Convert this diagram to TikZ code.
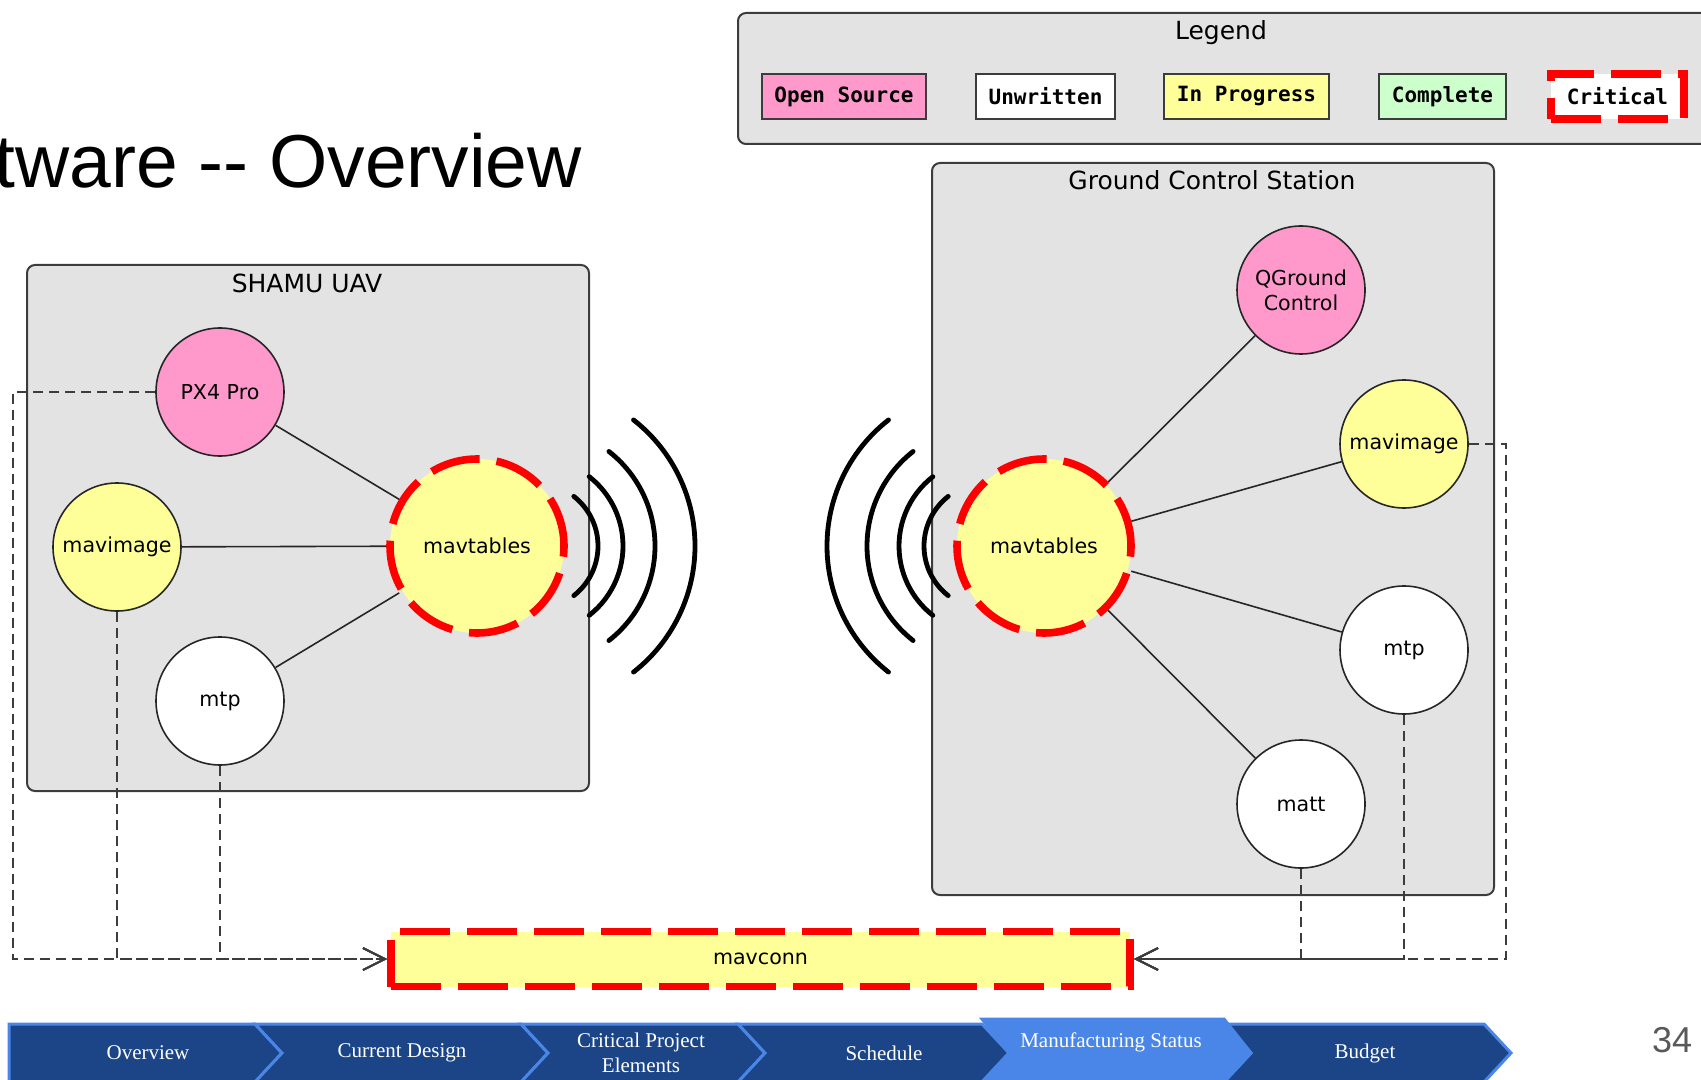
\documentclass[tikz,border=0pt]{standalone}
\usepackage{fontspec}
\setmainfont{DejaVu Sans}
\newfontfamily\keyfont{DejaVu Sans Mono}
\newfontfamily\slidefont{Liberation Sans}
\newfontfamily\navfont{Liberation Serif}
\usetikzlibrary{arrows.meta}
\definecolor{opensrc}{HTML}{FF99CC}
\definecolor{inprog}{HTML}{FFFF99}
\definecolor{complete}{HTML}{CCFFCC}
\definecolor{boxgray}{HTML}{E3E3E3}
\definecolor{edgegray}{HTML}{3C3C3C}
\definecolor{navdark}{RGB}{28,69,135}
\definecolor{navlight}{RGB}{74,134,232}
\definecolor{pagegray}{HTML}{595959}

\begin{document}
\begin{tikzpicture}[x=0.5pt, y=-0.5pt,
  cluster/.style={draw=edgegray, fill=boxgray, line width=1pt, rounded corners=4pt},
  clustertitle/.style={font=\fontsize{12.5}{14}\selectfont},
  proc/.style={circle, draw=black!85, line width=0.8pt, minimum size=#1, inner sep=0pt, font=\fontsize{10.3}{12.5}\selectfont},
  proc/.default=64pt,
  critical/.style={draw=red, line width=3.8pt, dash pattern=on 25pt off 8.5pt},
  link/.style={draw=black!85, line width=0.8pt},
  feed/.style={draw=edgegray, line width=1pt, dash pattern=on 5pt off 3pt, -{Straight Barb[length=11pt,width=11pt,line width=1pt]}},
  wave/.style={line width=2.4pt, line cap=round},
  key/.style={draw=edgegray, line width=1pt, minimum height=22.5pt, inner sep=0pt, font=\keyfont\bfseries\fontsize{10.5}{12}\selectfont},
  navtab/.style={fill=navdark, draw=navlight, line width=1.5pt},
  navtext/.style={text=white, font=\navfont\fontsize{10.5}{12.5}\selectfont, align=center}]
\useasboundingbox (0,0) rectangle (1701,1080);
\clip (0,0) rectangle (1701,1080);

% slide title
\node[anchor=base east, font=\slidefont\fontsize{37.5}{40}\selectfont] (title) at (589,188) {tware -{}- Overview};

% Legend
\draw[cluster] (738,13) rectangle (1760,144);
\node[clustertitle] (legendtitle) at (1221,33) {Legend};
\node[key, fill=opensrc, minimum width=82pt] (keyopen) at (844,96.5) {Open Source};
\node[key, fill=white, minimum width=69.5pt] (keyunwritten) at (1045.5,96.5) {Unwritten};
\node[key, fill=inprog, minimum width=82.5pt] (keyprogress) at (1246.5,96.5) {In Progress};
\node[key, fill=complete, minimum width=63.5pt] (keycomplete) at (1442.5,96.5) {Complete};
\node[key, critical, fill=white, minimum width=66.5pt] (keycritical) at (1617.5,96.5) {Critical};

% SHAMU UAV side
\draw[cluster] (27,265) rectangle (589,791);
\node[clustertitle] (uavtitle) at (307,283) {SHAMU UAV};
\node[proc, fill=opensrc] (px4l) at (220,392) {PX4 Pro};
\node[proc, fill=inprog] (imgl) at (117,547) {mavimage};
\node[proc, fill=white] (mtpl) at (220,701) {mtp};
\node[proc=87pt, fill=inprog, critical] (tablesl) at (477,546) {mavtables};
\draw[link] (px4l) -- (tablesl);
\draw[link] (imgl) -- (tablesl);
\draw[link] (mtpl) -- (tablesl);

% Ground Control Station side
\draw[cluster] (932,163) rectangle (1494,895);
\node[clustertitle] (gcstitle) at (1212,180) {Ground Control Station};
\node[proc, fill=opensrc, align=center] (qgc) at (1301,290) {QGround\\Control};
\node[proc, fill=inprog] (imgr) at (1404,444) {mavimage};
\node[proc, fill=white] (mtpr) at (1404,650) {mtp};
\node[proc, fill=white] (matt) at (1301,804) {matt};
\node[proc=87pt, fill=inprog, critical] (tablesr) at (1044,546) {mavtables};
\draw[link] (tablesr) -- (qgc);
\draw[link] (tablesr) -- (imgr);
\draw[link] (tablesr) -- (mtpr);
\draw[link] (tablesr) -- (matt);

% radio link
\coordinate (lwave) at (535,546);
\coordinate (rwave) at (987,546);
\draw[wave] ([shift={(-52:31.5pt)}]lwave) arc[start angle=-52, end angle=52, radius=31.5pt];
\draw[wave] ([shift={(-52:44pt)}]lwave) arc[start angle=-52, end angle=52, radius=44pt];
\draw[wave] ([shift={(-52:60pt)}]lwave) arc[start angle=-52, end angle=52, radius=60pt];
\draw[wave] ([shift={(-52:80pt)}]lwave) arc[start angle=-52, end angle=52, radius=80pt];
\draw[wave] ([shift={(128:31.5pt)}]rwave) arc[start angle=128, end angle=232, radius=31.5pt];
\draw[wave] ([shift={(128:44pt)}]rwave) arc[start angle=128, end angle=232, radius=44pt];
\draw[wave] ([shift={(128:60pt)}]rwave) arc[start angle=128, end angle=232, radius=60pt];
\draw[wave] ([shift={(128:80pt)}]rwave) arc[start angle=128, end angle=232, radius=80pt];

% shared connection library
\node[critical, fill=inprog, minimum width=369.5pt, minimum height=27.5pt, inner sep=0pt, font=\fontsize{10.3}{12}\selectfont] (mavconn) at (760.5,959) {mavconn};
\coordinate (lbus) at (13,959);
\coordinate (rbus) at (1506,959);
\draw[feed] (px4l.west) -| (lbus) -- (mavconn.west);
\draw[feed] (imgl.south) |- (mavconn.west);
\draw[feed] (mtpl.south) |- (mavconn.west);
\draw[feed] (matt.south) |- (mavconn.east);
\draw[feed] (mtpr.south) |- (mavconn.east);
\draw[feed] (imgr.east) -| (rbus) -- (mavconn.east);

% navigation bar
\draw[navtab] (9,1024) -- (255,1024) -- (282,1053) -- (255,1082) -- (9,1082) -- cycle;
\draw[navtab] (255,1024) -- (521,1024) -- (548,1053) -- (521,1082) -- (255,1082) -- (282,1053) -- cycle;
\draw[navtab] (521,1024) -- (738,1024) -- (765,1053) -- (738,1082) -- (521,1082) -- (548,1053) -- cycle;
\draw[navtab] (738,1024) -- (982,1024) -- (1009,1053) -- (982,1082) -- (738,1082) -- (765,1053) -- cycle;
\draw[navtab] (1224,1024) -- (1484,1024) -- (1511,1053) -- (1484,1082) -- (1224,1082) -- (1251,1053) -- cycle;
\draw[navtab, fill=navlight] (982,1019) -- (1224,1019) -- (1251,1053) -- (1224,1082) -- (982,1082) -- (1009,1053) -- cycle;
\node[navtext] (navoverview) at (148,1053) {Overview};
\node[navtext] (navdesign) at (402,1053) {Current Design};
\node[navtext] (navcritical) at (641,1053) {Critical Project\\Elements};
\node[navtext] (navschedule) at (884,1053) {Schedule};
\node[navtext] (navmfg) at (1111,1042) {Manufacturing Status};
\node[navtext] (navbudget) at (1365,1053) {Budget};
\node[text=pagegray, font=\slidefont\fontsize{18}{20}\selectfont] (pagenum) at (1672,1040) {34};
\end{tikzpicture}
\end{document}
